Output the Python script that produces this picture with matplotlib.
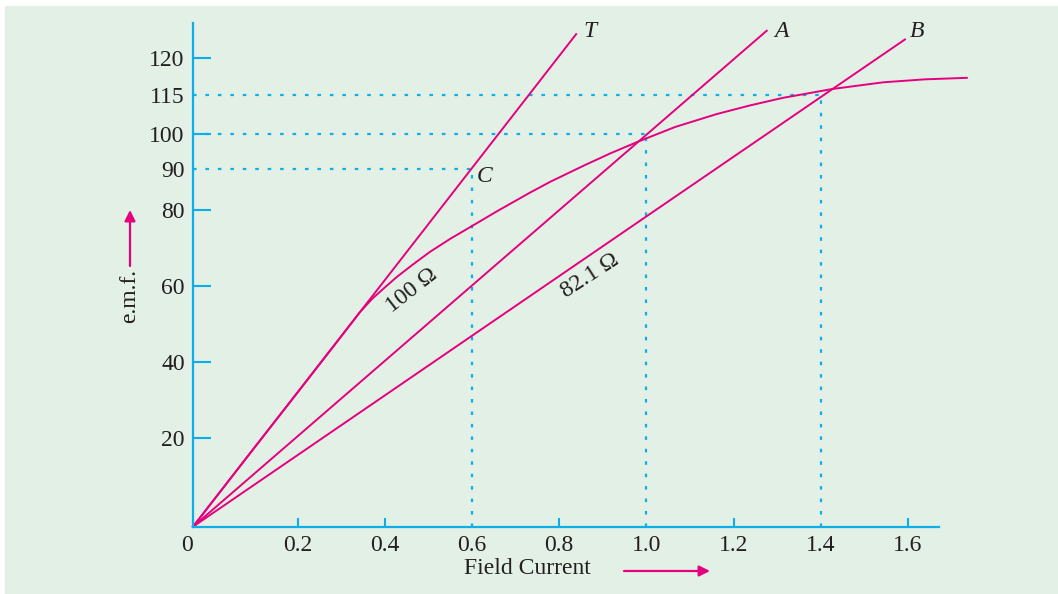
import numpy as np
import matplotlib.pyplot as plt

plt.rcParams['font.family'] = ['Liberation Serif', 'DejaVu Serif']

# open circuit characteristic (field current in A, e.m.f. in V)
occ_current = [0, 0.109, 0.206, 0.298, 0.343, 0.371, 0.401, 0.428, 0.465, 0.504,
               0.550, 0.596, 0.658, 0.733, 0.779, 0.855, 0.917, 0.981, 1.066,
               1.162, 1.238, 1.313, 1.426, 1.543, 1.639, 1.735]
occ_emf = [0, 16.5, 32.8, 46.4, 53.1, 56.6, 59.7, 62.4, 65.7, 69.0,
           72.4, 75.5, 79.7, 84.2, 86.8, 90.8, 94.4, 97.8, 102.7,
           107.7, 111.0, 113.9, 115.8, 116.7, 117.1, 117.3]

# resistance lines from the origin
line_names = ['T', 'A', 'B']
line_end_current = [0.839, 1.276, 1.593]
line_end_emf = [126.2, 127.1, 124.8]
label_current = [0.871, 1.309, 1.620]
label_emf = [127.0, 126.8, 126.8]

# dotted construction lines
guide_current = [0.6, 1.0, 1.4]
guide_emf = [90, 100, 115]

x_ticks = [0, 0.2, 0.4, 0.6, 0.8, 1.0, 1.2, 1.4, 1.6]
x_labels = ['0', '0.2', '0.4', '0.6', '0.8', '1.0', '1.2', '1.4', '1.6']
y_ticks = [20, 40, 60, 80, 90, 100, 115, 120]

# the original drawing is not to scale: tick positions (px from origin)
x_anchor_val = [0, 0.2, 1.6, 2.0]
x_anchor_px = [0, 104.5, 715, 889.4]
y_anchor_val = [0, 20, 40, 60, 80, 90, 100, 115, 120, 140]
y_anchor_px = [0, 89, 164.7, 240.7, 316.7, 358, 392.7, 431.7, 469, 545]

magenta = '#e5007d'
cyan = '#10aee8'
green = '#e2f0e6'
ink = '#231f20'


def make_scale(vals, px):
    def fwd(v):
        return np.interp(v, vals, px)

    def inv(p):
        return np.interp(p, px, vals)
    return fwd, inv


xf, xi = make_scale(x_anchor_val, x_anchor_px)
yf, yi = make_scale(y_anchor_val, y_anchor_px)

W, H = 1058, 594
fig = plt.figure(figsize=(W / 100, H / 100), dpi=100)
fig.patch.set_facecolor('white')
fig.patches.append(plt.Rectangle((5 / W, 0), 1 - 5 / W, 1 - 6 / H,
                                 transform=fig.transFigure, color=green, zorder=-10))

ox, oy = 193, 526.7
ax = fig.add_axes([ox / W, (H - oy) / H, 746 / W, (oy - 23) / H])
ax.set_facecolor('none')
ax.set_xscale('function', functions=(xf, xi))
ax.set_yscale('function', functions=(yf, yi))
ax.set_xlim(0, xi(746))
ax.set_ylim(0, yi(503.7))

for s in ['top', 'right']:
    ax.spines[s].set_visible(False)
for s in ['left', 'bottom']:
    ax.spines[s].set_color(cyan)
    ax.spines[s].set_linewidth(1.6)

# dotted guides
for gx, gy in zip(guide_current, guide_emf):
    ax.plot([0, gx], [gy, gy], color=cyan, lw=1.6, ls=(0, (1.6, 4.0)))
    ax.plot([gx, gx], [0, gy], color=cyan, lw=1.6, ls=(0, (1.6, 4.0)))

ax.plot(occ_current, occ_emf, color=magenta, lw=1.4, clip_on=False,
        solid_joinstyle='round')
for name, ex, ey, lx, ly in zip(line_names, line_end_current, line_end_emf,
                                label_current, label_emf):
    ax.plot([0, ex], [0, ey], color=magenta, lw=1.4, clip_on=False)
    ax.text(lx, ly, name, fontsize=17, style='italic', ha='center', va='center',
            color=ink)

ax.text(0.630, 88.1, 'C', fontsize=17, style='italic', ha='center', va='center',
        color=ink)
ax.text(0.461, 58.9, '100 Ω', fontsize=17, rotation=38, ha='center', va='center',
        rotation_mode='anchor', color=ink)
ax.text(0.871, 62.6, '82.1 Ω', fontsize=17, rotation=33, ha='center', va='center',
        rotation_mode='anchor', color=ink)

ax.set_xticks(x_ticks)
ax.set_xticklabels(x_labels)
ax.set_yticks(y_ticks)
ax.set_yticklabels([str(v) for v in y_ticks])
ax.xaxis.set_minor_locator(plt.NullLocator())
ax.yaxis.set_minor_locator(plt.NullLocator())
ax.tick_params(axis='x', direction='in', length=6.5, width=1.5, color=cyan,
               pad=6, labelsize=17, labelcolor=ink)
ax.tick_params(axis='y', direction='in', length=13, width=1.5, color=cyan,
               pad=6, labelsize=17, labelcolor=ink)
for t, v in zip(ax.xaxis.get_major_ticks(), x_ticks):
    if v in (0, 0.6, 1.0, 1.4):
        t.tick1line.set_visible(False)
    if v == 0:
        t.label1.set_horizontalalignment('right')
for t, v in zip(ax.yaxis.get_major_ticks(), y_ticks):
    if v in (90, 115):
        t.tick1line.set_visible(False)

# axis titles with arrows
fig.text(527 / W, 1 - 569 / H, 'Field Current', fontsize=17, ha='center',
         va='center', color=ink)
ax.annotate('', xy=(710 / W, 1 - 571 / H), xytext=(624 / W, 1 - 571 / H),
            xycoords='figure fraction', textcoords='figure fraction',
            arrowprops=dict(arrowstyle='-|>', color=magenta, lw=1.6,
                            mutation_scale=16, shrinkA=0, shrinkB=0))
fig.text(130 / W, 1 - 296 / H, 'e.m.f.', fontsize=17, rotation=90, ha='center',
         va='center', color=ink)
ax.annotate('', xy=(130 / W, 1 - 210 / H), xytext=(130 / W, 1 - 266 / H),
            xycoords='figure fraction', textcoords='figure fraction',
            arrowprops=dict(arrowstyle='-|>', color=magenta, lw=1.6,
                            mutation_scale=16, shrinkA=0, shrinkB=0))

fig.savefig('out.png', dpi=100)
